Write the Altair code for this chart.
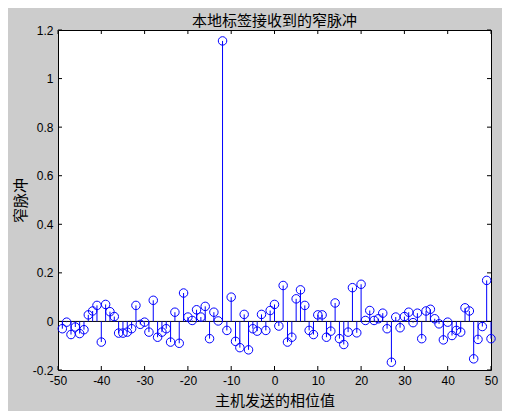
import altair as alt
import pandas as pd

# ---- data ----
phase = list(range(-49, 51))
pulse = [
    -0.030, -0.003, -0.054, -0.023, -0.050, -0.034, 0.027, 0.043, 0.066, -0.085,
    0.070, 0.040, 0.020, -0.048, -0.048, -0.044, -0.030, 0.066, -0.012, -0.003,
    -0.044, 0.087, -0.065, -0.044, -0.030, -0.085, 0.038, -0.090, 0.117, 0.018,
    0.004, 0.048, 0.018, 0.062, -0.071, 0.038, 0.002, 1.155, -0.037, 0.100,
    -0.082, -0.108, 0.029, -0.117, -0.030, -0.040, 0.029, -0.037, 0.045, 0.070,
    -0.019, 0.148, -0.085, -0.065, 0.093, 0.130, 0.066, -0.037, -0.054, 0.027,
    0.027, -0.065, -0.040, 0.076, -0.071, -0.095, -0.044, 0.139, -0.047, 0.153,
    0.004, 0.045, 0.004, 0.011, 0.034, -0.030, -0.168, 0.018, -0.026, 0.020,
    0.038, -0.005, 0.034, -0.071, 0.043, 0.050, 0.011, -0.010, -0.076, -0.003,
    -0.058, -0.037, -0.044, 0.056, 0.043, -0.154, -0.074, -0.021, 0.169, -0.071,
]
x_ticks = [-50, -40, -30, -20, -10, 0, 10, 20, 30, 40, 50]
y_ticks = [-0.2, 0, 0.2, 0.4, 0.6, 0.8, 1.0, 1.2]

title_text = "本地标签接收到的窄脉冲"
x_title = "主机发送的相位值"
y_title = "窄脉冲"

W, H = 433, 340
TL = 4  # tick length

df = pd.DataFrame({"x": phase, "y": pulse, "zero": [0.0] * len(phase)})
xt = pd.DataFrame({"t": x_ticks})
yt = pd.DataFrame({"t": y_ticks})
base0 = pd.DataFrame({"y": [0.0]})

xscale = alt.Scale(domain=[-50, 50], nice=False, zero=False)
yscale = alt.Scale(domain=[-0.2, 1.2], nice=False, zero=False)

cjk = "Noto Sans CJK SC"
lat = "Liberation Sans"

xaxis = alt.Axis(
    values=x_ticks, labelExpr="toString(datum.value)", ticks=False, domain=False,
    grid=False, labelFont=lat, labelFontSize=12, labelColor="black", labelPadding=5,
    labelFlush=False, labelOverlap=False, title=x_title, titleFont=cjk, titleFontSize=15,
    titleFontWeight="normal", titleColor="black", titlePadding=7,
)
yaxis = alt.Axis(
    values=y_ticks, labelExpr="toString(round(datum.value*10)/10)", ticks=False,
    domain=False, grid=False, labelFont=lat, labelFontSize=12, labelColor="black",
    labelPadding=5, labelFlush=False, labelOverlap=False, title=y_title, titleFont=cjk,
    titleFontSize=15, titleFontWeight="normal", titleColor="black", titlePadding=4,
)

baseline = alt.Chart(base0).mark_rule(color="black", strokeWidth=1).encode(
    y=alt.Y("y:Q", scale=yscale, axis=yaxis)
)

stems = alt.Chart(df).mark_rule(color="#0000ff", strokeWidth=1).encode(
    x=alt.X("x:Q", scale=xscale, axis=xaxis),
    y=alt.Y("zero:Q", scale=yscale, axis=yaxis),
    y2="y:Q",
)

points = alt.Chart(df).mark_point(
    shape="circle", filled=False, color="#0000ff", size=72, strokeWidth=1, opacity=1
).encode(
    x=alt.X("x:Q", scale=xscale, axis=xaxis),
    y=alt.Y("y:Q", scale=yscale, axis=yaxis),
)

xt_bottom = alt.Chart(xt).mark_rule(color="black").encode(
    x=alt.X("t:Q", scale=xscale, axis=xaxis), y=alt.value(H), y2=alt.value(H - TL)
)
xt_top = alt.Chart(xt).mark_rule(color="black").encode(
    x=alt.X("t:Q", scale=xscale, axis=xaxis), y=alt.value(0), y2=alt.value(TL)
)
yt_left = alt.Chart(yt).mark_rule(color="black").encode(
    y=alt.Y("t:Q", scale=yscale, axis=yaxis), x=alt.value(0), x2=alt.value(TL)
)
yt_right = alt.Chart(yt).mark_rule(color="black").encode(
    y=alt.Y("t:Q", scale=yscale, axis=yaxis), x=alt.value(W), x2=alt.value(W - TL)
)

chart = (
    alt.layer(baseline, stems, points, xt_bottom, xt_top, yt_left, yt_right)
    .properties(
        width=W,
        height=H,
        autosize=alt.AutoSizeParams(type="none"),
        padding={"left": 50, "top": 22, "right": 11, "bottom": 41},
        background="#cccccc",
        title=alt.TitleParams(
            text=title_text, font=cjk, fontSize=15, fontWeight="normal",
            color="black", anchor="middle", offset=0, dy=5,
        ),
    )
    .configure_view(stroke="black", strokeWidth=1, fill="white")
)

chart.save("out.html", embed_options={"renderer": "svg", "actions": False})
